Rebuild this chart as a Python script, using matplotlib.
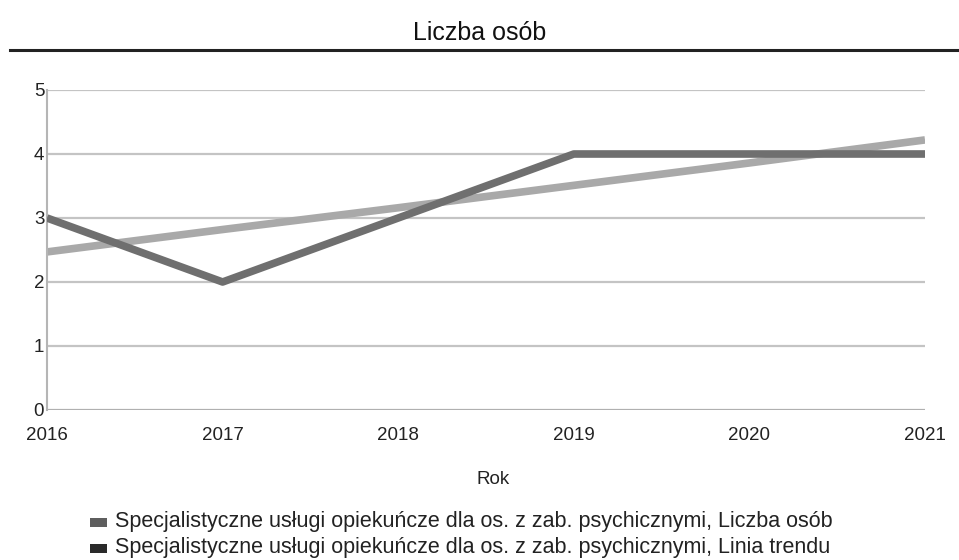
import matplotlib
matplotlib.use("Agg")
from matplotlib import pyplot as plt
from matplotlib.patches import Rectangle

plt.rcParams['font.family'] = ['Liberation Sans', 'DejaVu Sans']

years = [2016, 2017, 2018, 2019, 2020, 2021]
osoby = [3, 2, 3, 4, 4, 4]  # liczba osob
trend = [2.47, 2.82, 3.16, 3.51, 3.86, 4.22]  # linia trendu
y_ticks = [0, 1, 2, 3, 4, 5]

title = 'Liczba osób'
x_label = 'Rok'
legend_labels = ['Specjalistyczne usługi opiekuńcze dla os. z zab. psychicznymi, Liczba osób',
                 'Specjalistyczne usługi opiekuńcze dla os. z zab. psychicznymi, Linia trendu']

W, H = 959, 560
fig = plt.figure(figsize=(W / 100, H / 100), dpi=100)
ax = fig.add_axes([47 / W, 1 - 410 / H, (925 - 47) / W, 320 / H])

for t in y_ticks[1:]:
    ax.axhline(t, color='#c4c4c4', lw=1.6, zorder=1)
ax.axhline(0, color='#b0b0b0', lw=1.6, zorder=1)

ax.plot(years, osoby, color='#6f6f6f', lw=5.5, solid_capstyle='butt', zorder=3)
ax.plot(years, trend, color='#a9a9a9', lw=5.5, solid_capstyle='butt', zorder=2)

ax.set_xlim(2016, 2021)
ax.set_ylim(0, 5)
ax.set_xticks(years)
ax.set_xticklabels([str(y) for y in years])
ax.set_yticks(y_ticks)
for s in ['top', 'right', 'bottom']:
    ax.spines[s].set_visible(False)
ax.spines['left'].set_color('#b5b5b5')
ax.spines['left'].set_linewidth(1.5)
ax.tick_params(axis='both', length=0, labelsize=13.5, colors='#222222')
ax.tick_params(axis='y', pad=2)
ax.tick_params(axis='x', pad=12)

fig.text(493 / W, 1 - 480 / H, x_label, ha='center', va='center', fontsize=13.5, color='#222222')
fig.text(0.5, 1 - 33 / H, title, ha='center', va='center', fontsize=18, color='#111111')
fig.add_artist(plt.Line2D([10 / W, 1.0], [1 - 50 / H, 1 - 50 / H], color='#222222', lw=2.2))

sq_colors = ['#5e5e5e', '#2a2a2a']
for i, (lab, c) in enumerate(zip(legend_labels, sq_colors)):
    yy = 1 - (522 + i * 26) / H
    fig.add_artist(Rectangle((90 / W, yy - 4.5 / H), 17 / W, 9 / H, transform=fig.transFigure,
                             facecolor=c, edgecolor='none'))
    fig.text(115 / W, yy, lab, ha='left', va='center', fontsize=15.5, color='#222222')

fig.savefig('out.png', dpi=100)
